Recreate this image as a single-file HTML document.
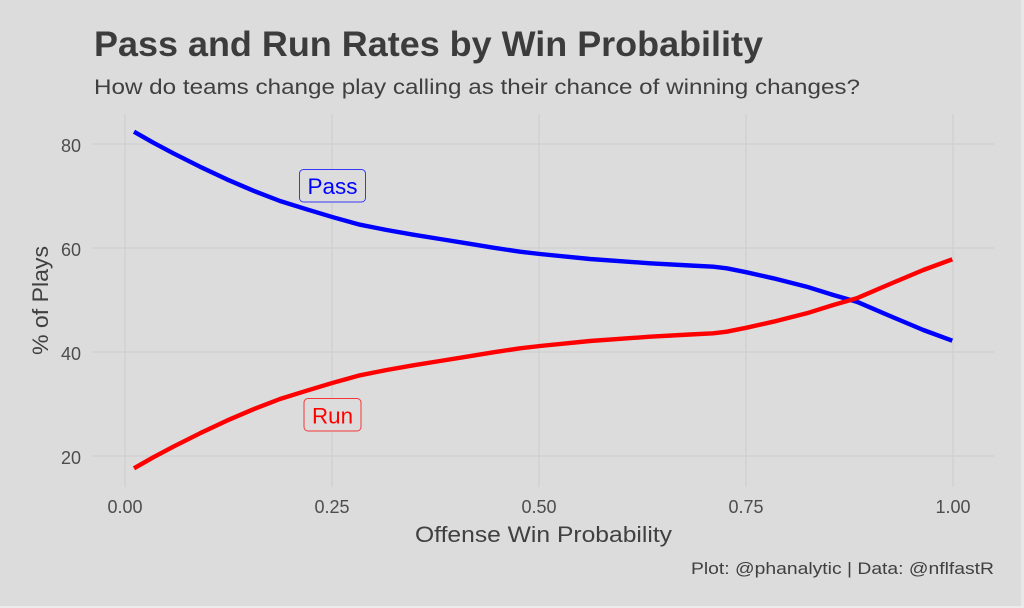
<!DOCTYPE html>
<html>
<head>
<meta charset="utf-8">
<style>
  html,body{margin:0;padding:0;background:#dcdcdc;}
  svg{display:block;}
  text{font-family:"Liberation Sans", "DejaVu Sans", sans-serif;}
</style>
</head>
<body>
<svg width="1024" height="608" viewBox="0 0 1024 608" xmlns="http://www.w3.org/2000/svg">
  <rect x="0" y="0" width="1024" height="608" fill="#dcdcdc"/>
  <rect x="1021" y="0" width="3" height="608" fill="#e8e8e8"/>
  <rect x="0" y="606" width="1024" height="2" fill="#ececec"/>

  <!-- gridlines -->
  <g stroke="#d2d2d2" stroke-width="1.6" fill="none">
    <line x1="92" y1="144" x2="994" y2="144"/>
    <line x1="92" y1="248" x2="994" y2="248"/>
    <line x1="92" y1="352" x2="994" y2="352"/>
    <line x1="92" y1="456" x2="994" y2="456"/>
    <line x1="125" y1="114" x2="125" y2="487"/>
    <line x1="332" y1="114" x2="332" y2="487"/>
    <line x1="539" y1="114" x2="539" y2="487"/>
    <line x1="746" y1="114" x2="746" y2="487"/>
    <line x1="953" y1="114" x2="953" y2="487"/>
  </g>

  <!-- title -->
  <text x="94" y="56" font-size="35" font-weight="bold" fill="#3c3c3c" textLength="669" lengthAdjust="spacingAndGlyphs">Pass and Run Rates by Win Probability</text>
  <text x="94" y="94" font-size="21" fill="#404040" textLength="766" lengthAdjust="spacingAndGlyphs">How do teams change play calling as their chance of winning changes?</text>

  <!-- y ticks -->
  <g font-size="18" fill="#4d4d4d" text-anchor="end">
    <text x="81" y="152">80</text>
    <text x="81" y="256">60</text>
    <text x="81" y="360">40</text>
    <text x="81" y="464">20</text>
  </g>
  <!-- x ticks -->
  <g font-size="18" fill="#4d4d4d" text-anchor="middle">
    <text x="125" y="513">0.00</text>
    <text x="332" y="513">0.25</text>
    <text x="539" y="513">0.50</text>
    <text x="746" y="513">0.75</text>
    <text x="953" y="513">1.00</text>
  </g>

  <!-- axis titles -->
  <text x="415" y="542" font-size="22" fill="#404040" textLength="257" lengthAdjust="spacingAndGlyphs">Offense Win Probability</text>
  <text transform="translate(48,355) rotate(-90)" x="0" y="0" font-size="22" fill="#404040" textLength="109" lengthAdjust="spacingAndGlyphs">% of Plays</text>

  <!-- caption -->
  <text x="691" y="574" font-size="17" fill="#404040" textLength="303" lengthAdjust="spacingAndGlyphs">Plot: @phanalytic | Data: @nflfastR</text>

  <!-- series -->
  <polyline fill="none" stroke="#0000ff" stroke-width="4.4" stroke-linejoin="round"
    points="134,131.7 153.3,142.7 173.3,153.3 200,166.7 226.7,179.3 253.3,190.7 280,201 306.7,209.3 333.3,217.3 360,224.7 386.7,230 413.3,234.7 440,239 466.7,243.3 493.3,247.7 520,251.7 540,254 590,259 650,263.3 690,265.5 713.3,266.7 726.7,268.3 746.7,272.3 773.3,278.3 806.7,286.7 833.3,295 856.7,301.7 890,316 923.3,330 952.3,340.7"/>
  <polyline fill="none" stroke="#ff0000" stroke-width="4.4" stroke-linejoin="round"
    points="134,468.3 153.3,457.3 173.3,446.7 200,433.3 226.7,420.7 253.3,409.3 280,399 306.7,390.7 333.3,382.7 360,375.3 386.7,370 413.3,365.3 440,361 466.7,356.7 493.3,352.3 520,348.3 540,346 590,341 650,336.7 690,334.5 713.3,333.3 726.7,331.7 746.7,327.7 773.3,321.7 806.7,313.3 833.3,305 856.7,298.3 890,284 923.3,270 952.3,259.3"/>

  <!-- labels -->
  <rect x="299.5" y="169.5" width="66" height="32.5" rx="4" ry="4" fill="#dcdcdc" stroke="#0000ff" stroke-opacity="0.75" stroke-width="1"/>
  <text x="332.5" y="194" font-size="22" fill="#0000ff" text-anchor="middle" textLength="50" lengthAdjust="spacingAndGlyphs">Pass</text>
  <rect x="304" y="398.5" width="57" height="32.5" rx="4" ry="4" fill="#dcdcdc" stroke="#ff0000" stroke-opacity="0.75" stroke-width="1"/>
  <text x="332.5" y="423.5" font-size="22" fill="#ff0000" text-anchor="middle" textLength="41" lengthAdjust="spacingAndGlyphs">Run</text>
</svg>
</body>
</html>
